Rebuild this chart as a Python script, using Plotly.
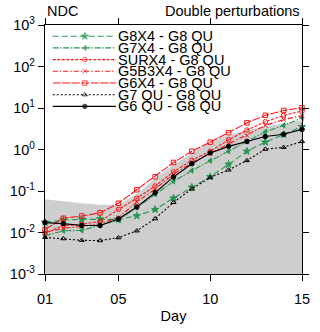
import plotly.graph_objects as go

days = list(range(1, 16))

# values (log scale)
g8x4 = [0.0176, 0.0200, 0.0207, 0.0211, 0.0207, 0.0253, 0.0357, 0.0675, 0.123, 0.220, 0.437, 0.906, 1.50, 2.29, 3.54]
g7x4 = [0.00837, 0.0110, 0.0112, 0.0147, 0.0200, 0.0398, 0.0839, 0.170, 0.310, 0.535, 0.906, 1.56, 2.67, 3.80, 5.78]
surx4 = [0.00965, 0.0147, 0.0157, 0.0185, 0.0360, 0.0667, 0.132, 0.289, 0.555, 0.906, 1.71, 2.94, 4.65, 6.66, 8.46]
g5b3x4 = [0.0100, 0.0127, 0.0139, 0.0164, 0.0227, 0.0542, 0.112, 0.253, 0.480, 0.804, 1.35, 2.17, 3.80, 5.27, 6.55]
g6x4 = [0.0118, 0.0221, 0.0249, 0.0298, 0.0506, 0.107, 0.220, 0.487, 0.906, 1.50, 2.55, 4.40, 6.66, 8.74, 10.1]
g7qu = [0.00763, 0.00711, 0.00648, 0.00638, 0.00751, 0.0110, 0.0215, 0.0533, 0.112, 0.212, 0.322, 0.543, 1.02, 1.13, 1.56]
g6qu = [0.0173, 0.0164, 0.0148, 0.0148, 0.0212, 0.0413, 0.0910, 0.218, 0.454, 0.826, 1.19, 1.56, 2.05, 2.33, 3.05]
spread_top = [0.0629, 0.0557, 0.0506, 0.0468, 0.0461, 0.0839, 0.200, 0.430, 0.826, 1.55, 2.20, 2.97, 3.60, 4.35, 5.07]

names = ["G8X4 - G8 QU", "G7X4 - G8 QU", "SURX4 - G8 QU", "G5B3X4 - G8 QU",
         "G6X4 - G8 QU", "G7 QU - G8 QU", "G6 QU - G8 QU"]
series = [g8x4, g7x4, surx4, g5b3x4, g6x4, g7qu, g6qu]

ymin, ymax = 1e-3, 1e3
ytick_vals = [1e-3, 1e-2, 1e-1, 1, 10, 100, 1000]
ytick_text = ["10<sup>-3</sup>", "10<sup>-2</sup>", "10<sup>-1</sup>", "10<sup>0</sup>",
              "10<sup>1</sup>", "10<sup>2</sup>", "10<sup>3</sup>"]
xtick_vals = [1, 5, 10, 15]
xtick_text = ["01", "05", "10", "15"]

green = "rgb(38,150,82)"
red = "rgb(255,20,20)"
styles = [
    dict(color=green, dash="6px,3px", symbol="star", size=5.5),
    dict(color=green, dash="6px,1.5px,1.5px,1.5px", symbol="triangle-left", size=4.5),
    dict(color=red, dash="3px,1.5px", symbol="circle-open", size=4.5),
    dict(color=red, dash="5px,2px,1.5px,2px", symbol="x-thin-open", size=4.5),
    dict(color=red, dash="8px,1.5px", symbol="square-open", size=4.5),
    dict(color="black", dash="2px,2px", symbol="triangle-up-open", size=4.5),
    dict(color="black", dash="solid", symbol="circle", size=4.5),
]
FS = 14.5

fig = go.Figure()

# grey spread region down to the bottom of the axis
fig.add_trace(go.Scatter(x=days, y=[ymin] * len(days), mode="lines",
                         line=dict(width=0), showlegend=False, hoverinfo="skip"))
fig.add_trace(go.Scatter(x=days, y=spread_top, mode="lines", line=dict(width=0),
                         fill="tonexty", fillcolor="rgb(206,206,206)",
                         showlegend=False, hoverinfo="skip"))

for name, vals, st in zip(names, series, styles):
    fig.add_trace(go.Scatter(
        x=days, y=vals, mode="lines+markers", name=name, showlegend=False,
        line=dict(color=st["color"], width=1.1, dash=st["dash"]),
        marker=dict(symbol=st["symbol"], size=st["size"], color=st["color"],
                    line=dict(color=st["color"], width=1)),
        cliponaxis=False,
    ))

# hand-made legend (plotly's legend rows are too tall for this layout)
row_y = [0.955, 0.908, 0.861, 0.814, 0.767, 0.720, 0.673]
for name, st, ry in zip(names, styles, row_y):
    fig.add_trace(go.Scatter(
        x=[0.03, 0.155, 0.276], y=[ry, ry, ry], xaxis="x2", yaxis="y2",
        mode="lines+markers", showlegend=False, hoverinfo="skip",
        line=dict(color=st["color"], width=1.1, dash=st["dash"]),
        marker=dict(symbol=st["symbol"], size=[0, st["size"], 0], color=st["color"],
                    line=dict(color=st["color"], width=1)),
    ))
    fig.add_annotation(x=0.279, y=ry, xref="paper", yref="paper", text=name,
                       showarrow=False, xanchor="left", yanchor="middle",
                       borderpad=0, font=dict(size=FS, color="black"))

fig.add_annotation(x=0, y=1, xref="paper", yref="paper", text="NDC", showarrow=False,
                   xanchor="left", yanchor="bottom", yshift=4,
                   font=dict(size=FS, color="black"))
fig.add_annotation(x=1, y=1, xref="paper", yref="paper", text="Double perturbations",
                   showarrow=False, xanchor="right", yanchor="bottom", yshift=4,
                   font=dict(size=FS, color="black"))

axis_common = dict(showline=True, linecolor="black", linewidth=1.2, mirror="ticks",
                   ticks="outside", ticklen=6, tickwidth=1.2, tickcolor="black",
                   showgrid=False, zeroline=False,
                   tickfont=dict(size=FS, color="black"))

fig.update_layout(
    width=320, height=332,
    margin=dict(l=42, r=10, t=25, b=54),
    paper_bgcolor="white", plot_bgcolor="white",
    font=dict(family="Liberation Sans, Arial, sans-serif", size=FS, color="black"),
    showlegend=False,
    xaxis=dict(range=[1, 15], tickmode="array", tickvals=xtick_vals, ticktext=xtick_text,
               ticklabelstandoff=5,
               title=dict(text="Day", font=dict(size=FS), standoff=5), **axis_common),
    yaxis=dict(type="log", range=[-3, 3], tickmode="array", tickvals=ytick_vals,
               ticktext=ytick_text, **axis_common),
    xaxis2=dict(overlaying="x", range=[0, 1], visible=False),
    yaxis2=dict(overlaying="y", range=[0, 1], visible=False),
)

# page body has a default 8px margin; remove it so the figure sits at the window corner
fig.write_html("out.html", config={"displayModeBar": False},
               post_script="document.body.style.margin='0';")
